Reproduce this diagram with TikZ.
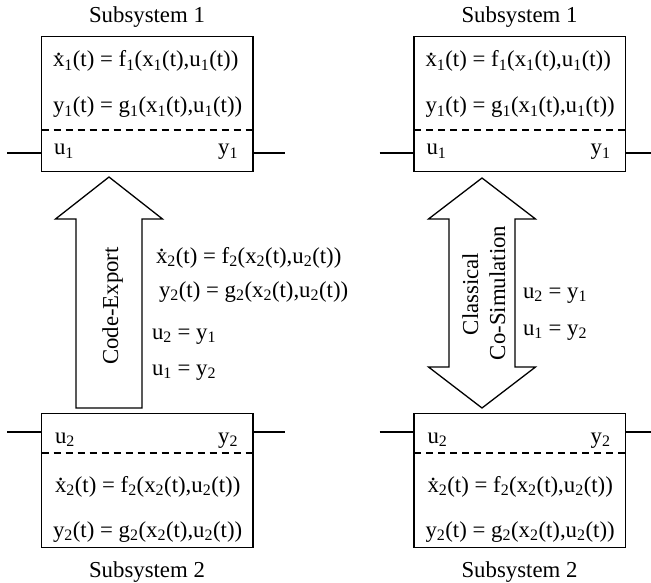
\documentclass[tikz,border=0pt]{standalone}
\usepackage{fontspec}
\setmainfont{Liberation Serif}
\newcommand\sbs[1]{\textsubscript{#1}}
\newcommand\xdot{\leavevmode\rlap{\hspace{0.13em}\raisebox{0.52em}{.}}x}
\begin{document}
\begin{tikzpicture}[x=1pt,y=-1pt,line width=1.3pt,
  every node/.style={font=\fontsize{22.8}{27}\selectfont, inner sep=0pt, outer sep=0pt},
  sysbox/.style={draw, minimum width=211.5pt, minimum height=134.5pt},
  sep/.style={dash pattern=on 7pt off 5pt},
  txt/.style={anchor=base west},
  rtxt/.style={anchor=base east},
  ttl/.style={anchor=base},
  vtxt/.style={anchor=base, rotate=90}]
\useasboundingbox (0,0) rectangle (651,583);
% ---------- left column ----------
\node[sysbox] (b1) at (147.25,104) {};
\node[ttl] (t1) at (147,23) {Subsystem 1};
\node[txt] (e11) at (53,67) {\xdot\sbs{1}(t) = f\sbs{1}(x\sbs{1}(t),u\sbs{1}(t))};
\node[txt] (e12) at (53,113) {y\sbs{1}(t) = g\sbs{1}(x\sbs{1}(t),u\sbs{1}(t))};
\node[txt] (u1) at (54,155) {u\sbs{1}};
\node[rtxt] (y1) at (238,155) {y\sbs{1}};
\draw[sep] (41.5,130) -- (253,130);
\coordinate (l1a) at (7,153); \coordinate (l1b) at (285,153);
\draw (l1a) -- (b1.west |- l1a);
\draw (b1.east |- l1b) -- (l1b);

\node[sysbox] (b2) at (147.25,480.5) {};
\node[ttl] (t2) at (147,577) {Subsystem 2};
\node[txt] (u2) at (55,443) {u\sbs{2}};
\node[rtxt] (y2) at (238,443) {y\sbs{2}};
\draw[sep] (41.5,453) -- (253,453);
\node[txt] (e21) at (55,492) {\xdot\sbs{2}(t) = f\sbs{2}(x\sbs{2}(t),u\sbs{2}(t))};
\node[txt] (e22) at (53,537) {y\sbs{2}(t) = g\sbs{2}(x\sbs{2}(t),u\sbs{2}(t))};
\coordinate (l2a) at (7,432); \coordinate (l2b) at (285,432);
\draw (l2a) -- (b2.west |- l2a);
\draw (b2.east |- l2b) -- (l2b);

% single arrow
\draw[line join=miter] (109,177) -- (162.5,219) -- (142,219) -- (142,408) -- (76,408)
  -- (76,219) -- (55.5,219) -- cycle;
\node[vtxt] (ce) at (118,306) {Code-Export};
\node[txt] (m1) at (156,263) {\xdot\sbs{2}(t) = f\sbs{2}(x\sbs{2}(t),u\sbs{2}(t))};
\node[txt] (m2) at (159,297) {y\sbs{2}(t) = g\sbs{2}(x\sbs{2}(t),u\sbs{2}(t))};
\node[txt] (m3) at (152,339) {u\sbs{2} = y\sbs{1}};
\node[txt] (m4) at (152,375) {u\sbs{1} = y\sbs{2}};

% ---------- right column ----------
\begin{scope}[xshift=372.5pt]
\node[sysbox] (c1) at (147.25,104) {};
\node[ttl] (s1) at (147,23) {Subsystem 1};
\node[txt] (f11) at (53,67) {\xdot\sbs{1}(t) = f\sbs{1}(x\sbs{1}(t),u\sbs{1}(t))};
\node[txt] (f12) at (53,113) {y\sbs{1}(t) = g\sbs{1}(x\sbs{1}(t),u\sbs{1}(t))};
\node[txt] (v1) at (54,155) {u\sbs{1}};
\node[rtxt] (w1) at (238,155) {y\sbs{1}};
\draw[sep] (41.5,130) -- (253,130);
\coordinate (k1a) at (7,153); \coordinate (k1b) at (280,153);
\draw (k1a) -- (c1.west |- k1a);
\draw (c1.east |- k1b) -- (k1b);

\node[sysbox] (c2) at (147.25,480.5) {};
\node[ttl] (s2) at (147,577) {Subsystem 2};
\node[txt] (v2) at (55,443) {u\sbs{2}};
\node[rtxt] (w2) at (238,443) {y\sbs{2}};
\draw[sep] (41.5,453) -- (253,453);
\node[txt] (f21) at (55,492) {\xdot\sbs{2}(t) = f\sbs{2}(x\sbs{2}(t),u\sbs{2}(t))};
\node[txt] (f22) at (53,537) {y\sbs{2}(t) = g\sbs{2}(x\sbs{2}(t),u\sbs{2}(t))};
\coordinate (k2a) at (7,432); \coordinate (k2b) at (280,432);
\draw (k2a) -- (c2.west |- k2a);
\draw (c2.east |- k2b) -- (k2b);

% double arrow
\draw[line join=miter] (109.5,178) -- (163,219) -- (142.5,219) -- (142.5,367) -- (163,367)
  -- (109.5,408) -- (56,367) -- (76.5,367) -- (76.5,219) -- (56,219) -- cycle;
\node[vtxt] (cl) at (105.5,294) {Classical};
\node[vtxt] (cs) at (132.5,293) {Co-Simulation};
\node[txt] (n1) at (150.5,298) {u\sbs{2} = y\sbs{1}};
\node[txt] (n2) at (150.5,335) {u\sbs{1} = y\sbs{2}};
\end{scope}
\end{tikzpicture}
\end{document}
